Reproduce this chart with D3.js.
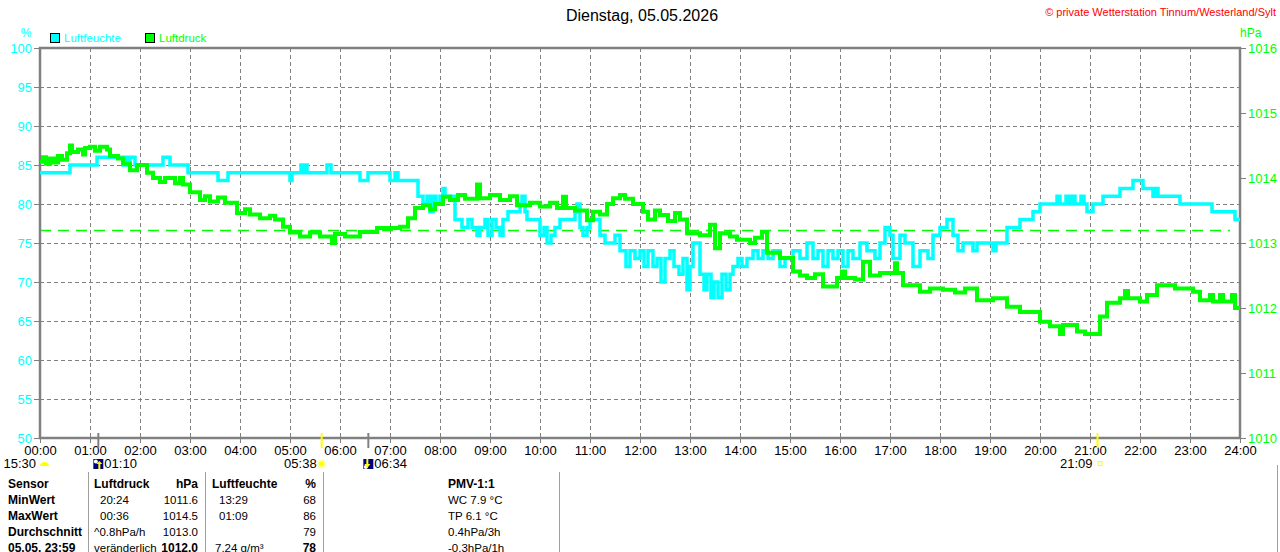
<!DOCTYPE html>
<html>
<head>
<meta charset="utf-8">
<script src="https://cdn.jsdelivr.net/npm/d3@7"></script>
<style>
  body { margin: 0; background: #fff; }
  svg { display: block; font-family: "Liberation Sans", Arial, sans-serif; }
</style>
</head>
<body>
<div id="chart"></div>
<script>
// ── data ──
const title = "Dienstag, 05.05.2026";
const copyright = "© private Wetterstation Tinnum/Westerland/Sylt";
const timeLabels = ["00:00","01:00","02:00","03:00","04:00","05:00","06:00","07:00","08:00","09:00","10:00","11:00","12:00",
  "13:00","14:00","15:00","16:00","17:00","18:00","19:00","20:00","21:00","22:00","23:00","24:00"];
const humTicks = [50,55,60,65,70,75,80,85,90,95,100];
const presTicks = [1010,1011,1012,1013,1014,1015,1016];
const presRef = 1013.2;

// [hour, %]
const humidity = [
  [0.00,84],[0.60,85],[1.14,86],[1.66,85],[1.70,86],[1.76,85],[1.80,86],[1.90,85],[2.46,86],[2.60,85],[2.96,84],[3.56,83],[3.76,84],
  [5.00,83],[5.04,84],[5.22,85],[5.26,84],[5.30,85],[5.34,84],[5.74,85],[5.82,84],[6.40,83],[6.56,84],[7.00,83],[7.10,84],[7.16,83],
  [7.56,81],[7.66,80],[7.74,81],[7.80,79],[7.86,81],[7.92,80],[8.00,81],[8.06,82],[8.10,81],[8.30,78],[8.44,77],[8.56,78],[8.64,77],
  [8.74,76],[8.80,77],[8.90,78],[8.96,76],[9.04,78],[9.12,77],[9.20,76],[9.26,78],[9.36,79],[9.50,79],[9.60,80],[9.64,81],[9.70,79],
  [9.74,78],[10.00,76],[10.08,77],[10.14,75],[10.22,76],[10.30,77],[10.40,78],[10.70,79],[10.74,80],[10.80,77],[10.86,76],[10.94,77],
  [11.00,78],[11.20,76],[11.30,75],[11.50,76],[11.60,74],[11.72,72],[11.80,74],[11.90,73],[12.00,74],[12.08,72],[12.16,74],[12.26,72],
  [12.34,73],[12.42,70],[12.50,73],[12.60,74],[12.68,72],[12.78,71],[12.86,73],[12.94,69],[13.00,72],[13.06,75],[13.20,71],[13.28,69],
  [13.34,71],[13.42,68],[13.48,70],[13.56,68],[13.64,71],[13.72,69],[13.80,71],[13.86,72],[13.96,73],[14.04,72],[14.14,73],[14.26,74],
  [14.36,73],[14.46,74],[14.56,73],[14.66,74],[14.80,72],[14.90,73],[15.06,74],[15.20,73],[15.34,75],[15.46,73],[15.56,74],[15.66,72],
  [15.76,74],[15.86,73],[15.96,74],[16.06,72],[16.16,74],[16.26,73],[16.40,75],[16.54,74],[16.70,73],[16.80,75],[16.90,77],[17.00,76],
  [17.06,73],[17.20,76],[17.30,75],[17.46,72],[17.60,74],[17.76,73],[17.86,76],[18.00,77],[18.14,78],[18.26,76],[18.36,74],[18.46,75],
  [18.66,74],[18.74,75],[19.06,74],[19.12,75],[19.34,77],[19.60,78],[19.86,79],[20.00,80],[20.34,81],[20.40,80],[20.52,81],[20.58,80],
  [20.64,81],[20.70,80],[20.82,81],[20.88,80],[20.94,79],[21.06,80],[21.26,81],[21.60,82],[21.86,83],[22.06,82],[22.26,81],[22.30,82],
  [22.36,81],[22.80,80],[23.44,79],[23.90,78],[24.00,78]
];

// [hour, hPa]
const pressure = [
  [0.00,1014.25],[0.06,1014.32],[0.12,1014.22],[0.20,1014.30],[0.28,1014.24],[0.36,1014.34],[0.44,1014.28],[0.54,1014.38],[0.60,1014.50],
  [0.64,1014.40],[0.76,1014.44],[0.86,1014.36],[0.90,1014.46],[1.00,1014.48],[1.10,1014.42],[1.20,1014.48],[1.34,1014.44],[1.40,1014.34],
  [1.56,1014.30],[1.66,1014.22],[1.80,1014.12],[1.94,1014.20],[2.14,1014.08],[2.26,1014.00],[2.40,1013.94],[2.50,1014.00],[2.70,1013.92],
  [2.80,1014.00],[2.86,1013.90],[3.00,1013.78],[3.20,1013.66],[3.30,1013.72],[3.40,1013.64],[3.56,1013.70],[3.70,1013.62],[3.94,1013.46],
  [4.10,1013.52],[4.20,1013.44],[4.40,1013.38],[4.60,1013.42],[4.70,1013.36],[4.86,1013.25],[5.00,1013.16],[5.20,1013.10],[5.40,1013.16],
  [5.60,1013.10],[5.84,1013.00],[5.90,1013.14],[6.10,1013.10],[6.40,1013.17],[6.74,1013.23],[7.20,1013.25],[7.36,1013.38],[7.50,1013.54],
  [7.66,1013.58],[7.80,1013.52],[7.90,1013.60],[8.06,1013.71],[8.20,1013.66],[8.36,1013.74],[8.50,1013.68],[8.74,1013.90],[8.80,1013.69],
  [9.00,1013.74],[9.20,1013.66],[9.40,1013.72],[9.54,1013.58],[9.80,1013.62],[10.00,1013.56],[10.20,1013.62],[10.34,1013.54],
  [10.46,1013.71],[10.52,1013.54],[10.70,1013.50],[10.94,1013.35],[11.06,1013.48],[11.20,1013.44],[11.34,1013.60],[11.46,1013.69],
  [11.60,1013.74],[11.70,1013.68],[11.86,1013.60],[12.06,1013.48],[12.16,1013.36],[12.30,1013.50],[12.40,1013.43],[12.56,1013.34],
  [12.70,1013.46],[12.80,1013.36],[12.94,1013.15],[13.20,1013.12],[13.40,1013.28],[13.50,1012.92],[13.60,1013.15],[13.80,1013.10],
  [13.94,1013.05],[14.20,1013.00],[14.30,1013.08],[14.44,1013.17],[14.54,1012.85],[14.80,1012.77],[15.06,1012.56],[15.20,1012.50],
  [15.34,1012.46],[15.50,1012.52],[15.66,1012.33],[15.94,1012.46],[16.04,1012.56],[16.10,1012.46],[16.30,1012.44],[16.46,1012.71],
  [16.60,1012.50],[16.80,1012.54],[17.10,1012.69],[17.14,1012.54],[17.26,1012.35],[17.60,1012.25],[17.80,1012.30],[18.06,1012.28],
  [18.30,1012.24],[18.50,1012.30],[18.74,1012.12],[19.06,1012.15],[19.34,1012.02],[19.60,1011.94],[20.00,1011.79],[20.20,1011.72],
  [20.40,1011.60],[20.46,1011.74],[20.74,1011.64],[20.90,1011.60],[21.20,1011.87],[21.34,1012.08],[21.60,1012.15],[21.70,1012.26],
  [21.76,1012.15],[22.00,1012.10],[22.14,1012.20],[22.34,1012.35],[22.70,1012.30],[23.06,1012.25],[23.20,1012.12],[23.40,1012.20],
  [23.46,1012.10],[23.60,1012.20],[23.66,1012.10],[23.84,1012.20],[23.90,1012.00],[24.00,1012.00]
];

// sun / moon events [hour, label]
const moonRise = [1 + 10/60, "01:10"];
const moonSet = [6 + 34/60, "06:34"];
const sunRise = [5 + 38/60, "05:38"];
const sunSet = [21 + 9/60, "21:09"];
const moonPhase = "15:30";

// table rows
const tableHeader = ["Sensor","Luftdruck","hPa","Luftfeuchte","%","PMV-1:1"];
const tableMin = ["MinWert","20:24","1011.6","13:29","68","WC 7.9 °C"];
const tableMax = ["MaxWert","00:36","1014.5","01:09","86","TP 6.1 °C"];
const tableAvg = ["Durchschnitt","^0.8hPa/h","1013.0","","79","0.4hPa/3h"];
const tableNow = ["05.05. 23:59","veränderlich","1012.0","7.24 g/m³","78","-0.3hPa/1h"];

// ── chart ──
const CYAN = "#00ffff", GREEN = "#00ff00", GRID = "#808080";
const W = 1280, H = 552,
  M = { t: 48, r: 40, b: 114, l: 40 },
  h = H - M.t - M.b;
const svg = d3.select("#chart").append("svg").attr("width", W).attr("height", H);

const x = d3.scaleLinear().domain([0, 24]).range([M.l, W - M.r]);
const yH = d3.scaleLinear().domain([50, 100]).range([M.t + h, M.t]);
const yP = d3.scaleLinear().domain([1010, 1016]).range([M.t + h, M.t]);

// grid
svg.append("g").selectAll("line").data(d3.range(1, 24)).join("line")
  .attr("x1", d => Math.round(x(d)) + 0.5).attr("x2", d => Math.round(x(d)) + 0.5).attr("y1", M.t).attr("y2", M.t + h)
  .attr("stroke", GRID).attr("stroke-dasharray", "4,3");
svg.append("g").selectAll("line").data(humTicks.slice(1, -1)).join("line")
  .attr("x1", x(0)).attr("x2", x(24)).attr("y1", d => Math.round(yH(d)) + 0.5).attr("y2", d => Math.round(yH(d)) + 0.5)
  .attr("stroke", GRID).attr("stroke-dasharray", "4,3");

// reference dashed line
const yRef = Math.round(yP(presRef)) + 0.5;
svg.append("line")
  .attr("x1", x(0)).attr("x2", x(23.8)).attr("y1", yRef).attr("y2", yRef)
  .attr("stroke", GREEN).attr("stroke-width", 1.5).attr("stroke-dasharray", "11,7");

// axes
const axL = svg.append("g").attr("transform", `translate(${M.l},0)`)
  .call(d3.axisLeft(yH).tickValues(humTicks).tickSize(6).tickPadding(2));
const axR = svg.append("g").attr("transform", `translate(${W - M.r},0)`)
  .call(d3.axisRight(yP).tickValues(presTicks).tickFormat(d3.format("d")).tickSize(6).tickPadding(2));
const axB = svg.append("g").attr("transform", `translate(0,${M.t + h})`)
  .call(d3.axisBottom(x).tickValues(d3.range(25)).tickFormat((d, i) => timeLabels[i]).tickSize(5).tickPadding(3));
[axL, axR, axB].forEach(a => {
  a.select(".domain").remove();
  a.selectAll(".tick line").attr("stroke", GRID);
  a.selectAll("text").attr("font-family", "'Liberation Sans Narrow', 'Liberation Sans', sans-serif")
    .attr("font-size", "13px");
});
axL.selectAll("text").attr("fill", CYAN);
axR.selectAll("text").attr("fill", GREEN);
axB.selectAll("text").attr("fill", "#000");

// frame
svg.append("rect").attr("x", x(0)).attr("y", M.t).attr("width", x(24) - x(0)).attr("height", h)
  .attr("fill", "none").attr("stroke", GRID).attr("stroke-width", 2.5);

// series
const lineH = d3.line().x(d => x(d[0])).y(d => yH(d[1])).curve(d3.curveStepAfter);
const lineP = d3.line().x(d => x(d[0])).y(d => yP(d[1])).curve(d3.curveStepAfter);
svg.append("path").datum(humidity).attr("d", lineH)
  .attr("fill", "none").attr("stroke", CYAN).attr("stroke-width", 3.5);
svg.append("path").datum(pressure).attr("d", lineP)
  .attr("fill", "none").attr("stroke", GREEN).attr("stroke-width", 4);

// unit labels + legend
svg.append("text").attr("x", 26).attr("y", 37).attr("text-anchor", "middle")
  .attr("fill", CYAN).attr("font-size", "12px").text("%");
svg.append("text").attr("x", 1240).attr("y", 37)
  .attr("fill", GREEN).attr("font-size", "12px").text("hPa");
const legend = [{ label: "Luftfeuchte", color: CYAN, x: 50 }, { label: "Luftdruck", color: GREEN, x: 145 }];
legend.forEach(l => {
  svg.append("rect").attr("x", l.x + 0.5).attr("y", 33.5).attr("width", 9).attr("height", 9)
    .attr("fill", l.color).attr("stroke", "#000");
  svg.append("text").attr("x", l.x + 14).attr("y", 42).attr("fill", l.color)
    .attr("font-size", "11.5px").text(l.label);
});

// title + copyright
svg.append("text").attr("x", 642).attr("y", 21).attr("text-anchor", "middle")
  .attr("font-size", "16px").attr("fill", "#000").text(title);
svg.append("text").attr("x", 1276).attr("y", 16).attr("text-anchor", "end")
  .attr("font-size", "11px").attr("fill", "#ff0000").text(copyright);

// sun / moon markers on axis
[[moonRise, GRID], [moonSet, GRID], [sunRise, "#ffff00"], [sunSet, "#ffff00"]].forEach(([e, c]) => {
  svg.append("line").attr("x1", x(e[0])).attr("x2", x(e[0])).attr("y1", 433).attr("y2", 448)
    .attr("stroke", c).attr("stroke-width", 2);
});
const evFont = "'Liberation Sans Narrow', 'Liberation Sans', sans-serif";
svg.append("text").attr("x", 36).attr("y", 468).attr("text-anchor", "end")
  .attr("font-family", evFont).attr("font-size", "13px").text(moonPhase);
svg.append("path").attr("d", "M40,466 a4.5,4 0 0 1 9,0 z").attr("fill", "#ffff00");
function moonIcon(cx, up) {
  const g = svg.append("g").attr("transform", `translate(${cx - 5},459)`);
  g.append("rect").attr("width", 10).attr("height", 10).attr("fill", "#000080");
  g.append("circle").attr("cx", 2.5).attr("cy", up ? 2.5 : 8).attr("r", 2).attr("fill", "#fff");
  g.append("path").attr("d", up ? "M6,2 L9,5 L7,5 L7,10 L5,10 L5,5 L3,5 Z" : "M6,9 L9,5 L7,5 L7,0 L5,0 L5,5 L3,5 Z")
    .attr("fill", "#ffff00").attr("transform", up ? "" : "translate(-2,0)");
}
moonIcon(x(moonRise[0]), true);
svg.append("text").attr("x", x(moonRise[0]) + 6).attr("y", 468)
  .attr("font-family", evFont).attr("font-size", "13px").text(moonRise[1]);
moonIcon(x(moonSet[0]), false);
svg.append("text").attr("x", x(moonSet[0]) + 6).attr("y", 468)
  .attr("font-family", evFont).attr("font-size", "13px").text(moonSet[1]);
svg.append("text").attr("x", x(sunRise[0]) - 5).attr("y", 468).attr("text-anchor", "end")
  .attr("font-family", evFont).attr("font-size", "13px").text(sunRise[1]);
svg.append("circle").attr("cx", x(sunRise[0])).attr("cy", 464).attr("r", 3.5).attr("fill", "#ffff00")
  .attr("stroke", "#ffffa0").attr("stroke-width", 2);
svg.append("text").attr("x", x(sunSet[0]) - 5).attr("y", 468).attr("text-anchor", "end")
  .attr("font-family", evFont).attr("font-size", "13px").text(sunSet[1]);
svg.append("rect").attr("x", x(sunSet[0]) + 0.5).attr("y", 461.5).attr("width", 4).attr("height", 4)
  .attr("fill", "none").attr("stroke", "#ffff00");

// table
[88, 205, 323, 559].forEach(lx => {
  svg.append("line").attr("x1", lx + 0.5).attr("x2", lx + 0.5).attr("y1", 472).attr("y2", H)
    .attr("stroke", "#a0a0a0");
});
svg.append("line").attr("x1", 1277.5).attr("x2", 1277.5).attr("y1", 465).attr("y2", H).attr("stroke", "#a0a0a0");

const rows = [tableHeader, tableMin, tableMax, tableAvg, tableNow];
// column placement
const cols = [
  { x: 8, a: "start" }, { x: 94, a: "start" }, { x: 198, a: "end" },
  { x: 212, a: "start" }, { x: 316, a: "end" }, { x: 448, a: "start" }
];
rows.forEach((r, ri) => {
  const yy = 488 + ri * 16;
  r.forEach((t, ci) => {
    const c = cols[ci];
    let bold = ri === 0 || ci === 0;
    if (ri === 4 && (ci === 2 || ci === 4)) bold = true;
    let xx = c.x;
    if (ri > 0 && ri < 3 && ci === 1) xx += 6;
    if (ri > 0 && ri < 3 && ci === 3) xx += 7;
    if (ri === 4 && ci === 3) xx += 3;
    svg.append("text").attr("x", xx).attr("y", yy).attr("text-anchor", c.a)
      .attr("font-size", bold ? "12px" : "11.5px").attr("font-weight", bold ? 700 : 400)
      .attr("fill", "#000").text(t);
  });
});
</script>
</body>
</html>
